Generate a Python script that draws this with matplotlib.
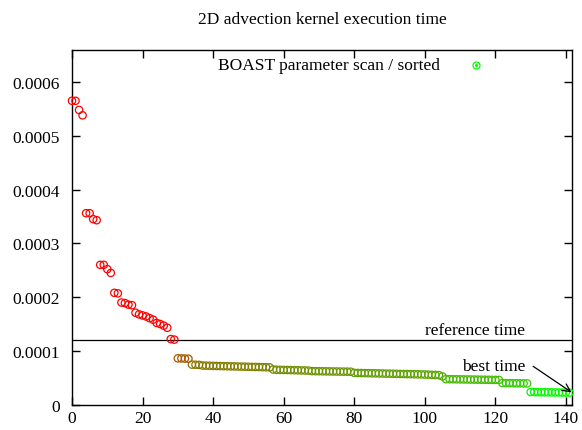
import matplotlib
matplotlib.use("Agg")
import matplotlib.pyplot as plt
from matplotlib.colors import LinearSegmentedColormap, Normalize

plt.rcParams['font.family'] = ['Liberation Serif', 'DejaVu Serif']

title = "2D advection kernel execution time"
series_label = "BOAST parameter scan / sorted"
reference_time = 0.00012
reference_label = "reference time"
best_label = "best time"

times = [
    0.000565, 0.000565, 0.000548, 0.000538,
    0.000356, 0.000356, 0.000345, 0.000343,
    0.000260, 0.000260, 0.000252, 0.000245,
    0.000208, 0.000207, 0.000190, 0.000189, 0.000186, 0.000185,
    0.000171, 0.000168, 0.000166, 0.000164, 0.000161, 0.000158,
    0.000152, 0.000150, 0.000147, 0.000143,
    0.000122, 0.000121,
    0.0000862, 0.0000860, 0.0000858, 0.0000855,
    0.0000745, 0.0000743, 0.0000740,
    0.0000728, 0.0000726, 0.0000724, 0.0000722, 0.0000720, 0.0000718, 0.0000716,
    0.0000715, 0.0000713, 0.0000712, 0.0000710, 0.0000708, 0.0000707, 0.0000705,
    0.0000703, 0.0000702, 0.0000700, 0.0000698, 0.0000696, 0.0000694,
    0.0000655, 0.0000650, 0.0000648, 0.0000646, 0.0000645, 0.0000643, 0.0000641,
    0.0000640, 0.0000638, 0.0000636, 0.0000634,
    0.0000625, 0.0000623, 0.0000622, 0.0000621, 0.0000620, 0.0000619, 0.0000618,
    0.0000617, 0.0000616, 0.0000615, 0.0000614, 0.0000613,
    0.0000592, 0.0000590, 0.0000589, 0.0000587, 0.0000586, 0.0000584, 0.0000583,
    0.0000581, 0.0000580, 0.0000578, 0.0000577, 0.0000575, 0.0000574, 0.0000572,
    0.0000571, 0.0000569, 0.0000568, 0.0000566, 0.0000565, 0.0000563, 0.0000561,
    0.0000559, 0.0000556, 0.0000553, 0.0000550,
    0.0000525,
    0.0000475, 0.0000474, 0.0000473, 0.0000472, 0.0000471, 0.0000470, 0.0000469,
    0.0000468, 0.0000467, 0.0000466, 0.0000465, 0.0000464, 0.0000463, 0.0000462,
    0.0000461, 0.0000460,
    0.0000402, 0.0000401, 0.0000400, 0.0000399, 0.0000398, 0.0000397, 0.0000396,
    0.0000395,
    0.0000235, 0.0000234, 0.0000233, 0.0000232, 0.0000231, 0.0000230, 0.0000229,
    0.0000228, 0.0000227, 0.0000226, 0.0000225, 0.0000224,
]
index = list(range(len(times)))

x_ticks = [0, 20, 40, 60, 80, 100, 120, 140]
y_ticks = [0, 0.0001, 0.0002, 0.0003, 0.0004, 0.0005, 0.0006]
y_tick_labels = ["0", "0.0001", "0.0002", "0.0003", "0.0004", "0.0005", "0.0006"]

W, H = 582, 431
fig = plt.figure(figsize=(W / 100, H / 100), dpi=100)
ax = fig.add_axes([72 / W, 1 - 405.7 / H, (572.3 - 72) / W, (405.7 - 50.7) / H])

cmap = LinearSegmentedColormap.from_list("gr", [(0, 1, 0), (1, 0, 0)])
norm = Normalize(vmin=0.00002, vmax=0.00012, clip=True)
colors = [cmap(norm(t)) for t in times]

ax.scatter(index, times, s=28, facecolors='none', edgecolors=colors,
           linewidths=0.9, clip_on=False, zorder=3)

ax.axhline(reference_time, color='black', lw=0.9, zorder=2)
ax.text(128.4, 0.000139, reference_label, ha='right', va='center', fontsize=12.5)
ax.text(128.4, 0.0000714, best_label, ha='right', va='center', fontsize=12.5)
ax.annotate("", xy=(141.6, 0.000023), xytext=(130.7, 0.0000714),
            arrowprops=dict(arrowstyle='->', color='black', lw=0.9,
                            mutation_scale=14, shrinkA=0, shrinkB=0))

ax.set_xlim(0, 141.8)
ax.set_ylim(0, 0.00066)
ax.set_xticks(x_ticks)
ax.set_xticklabels([str(v) for v in x_ticks])
ax.set_yticks(y_ticks)
ax.set_yticklabels(y_tick_labels)
ax.tick_params(direction='in', length=6, width=1, top=True, right=True,
               labelsize=12.5)
ax.tick_params(axis='y', pad=9)
ax.tick_params(axis='x', pad=4)
for sp in ax.spines.values():
    sp.set_linewidth(1)

# legend
fig.text(440 / W, 1 - 66 / H, series_label, ha='right', va='center', fontsize=12.5)
fig.lines.append(plt.Line2D([476 / W], [1 - 66 / H], transform=fig.transFigure,
                            marker='o', markersize=5, markerfacecolor='none',
                            markeredgecolor=(0, 1, 0), markeredgewidth=0.9, linestyle='none'))
fig.lines.append(plt.Line2D([476 / W], [1 - 66 / H], transform=fig.transFigure,
                            marker='o', markersize=1.2, markerfacecolor=(0, 1, 0),
                            markeredgecolor=(0, 1, 0), linestyle='none'))

fig.text(322 / W, 1 - 20 / H, title, ha='center', va='center', fontsize=12.5)

fig.savefig("out.png", dpi=100)
